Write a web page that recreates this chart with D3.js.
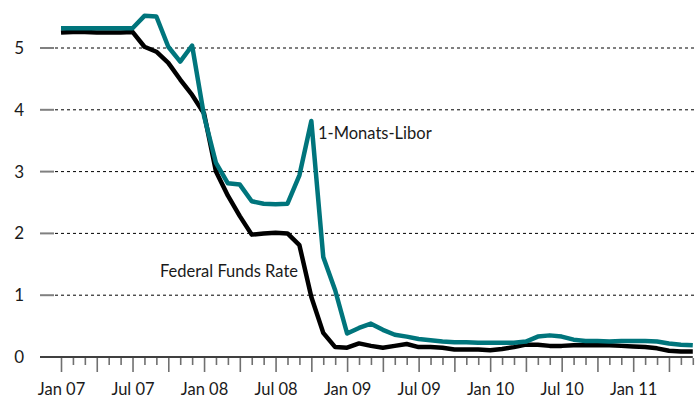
<!DOCTYPE html>
<html>
<head>
<meta charset="utf-8">
<script src="https://cdn.jsdelivr.net/npm/d3@7"></script>
<style>
  body { margin: 0; background: #fff; }
  text { font-family: Lato, "Open Sans", sans-serif; fill: #1a1a1a; }
</style>
</head>
<body>
<svg width="696" height="401"></svg>
<script>
// monthly values, Jan 07 .. Jun 11
var startYear = 2007;
var tickLabels = ["Jan 07","Jul 07","Jan 08","Jul 08","Jan 09","Jul 09","Jan 10","Jul 10","Jan 11"];
var yTicks = [0, 1, 2, 3, 4, 5];

var fedFunds = [5.25,5.26,5.26,5.25,5.25,5.25,5.26,5.02,4.94,4.76,4.49,4.24,
                3.94,3.00,2.61,2.28,1.98,2.00,2.01,2.00,1.81,0.97,0.39,0.16,
                0.15,0.22,0.18,0.15,0.18,0.21,0.16,0.16,0.15,0.12,0.12,0.12,
                0.11,0.13,0.16,0.20,0.20,0.18,0.18,0.19,0.19,0.19,0.19,0.18,
                0.17,0.16,0.14,0.10,0.09,0.09];
var libor1m = [5.32,5.32,5.32,5.32,5.32,5.32,5.32,5.52,5.51,5.02,4.78,5.04,
               3.90,3.14,2.81,2.79,2.52,2.48,2.47,2.48,2.94,3.82,1.62,1.08,
               0.38,0.47,0.54,0.44,0.36,0.33,0.29,0.27,0.25,0.24,0.24,0.23,
               0.23,0.23,0.23,0.25,0.33,0.35,0.33,0.28,0.26,0.26,0.25,0.26,
               0.26,0.26,0.25,0.22,0.20,0.19];

var svg = d3.select("svg"),
  width = +svg.attr("width"),
  height = +svg.attr("height");

var x = d3.scaleLinear().domain([0, 53]).range([61, 692.8]);
var y = d3.scaleLinear().domain([0, 5]).range([357, 48]);

// grid lines
svg.append("g")
  .selectAll("line")
  .data(yTicks.filter(function(d) { return d > 0; }))
  .enter().append("line")
    .attr("x1", 55).attr("x2", width)
    .attr("y1", function(d) { return y(d); })
    .attr("y2", function(d) { return y(d); })
    .attr("stroke", "#000")
    .attr("stroke-width", 1)
    .attr("stroke-dasharray", "3,3");

// y axis: short grey marks + labels
var yAxis = svg.append("g");
yAxis.selectAll("line")
  .data(yTicks.filter(function(d) { return d > 0; }))
  .enter().append("line")
    .attr("x1", 40).attr("x2", 54)
    .attr("y1", function(d) { return y(d); })
    .attr("y2", function(d) { return y(d); })
    .attr("stroke", "#808080")
    .attr("stroke-width", 2);
yAxis.selectAll("text")
  .data(yTicks)
  .enter().append("text")
    .attr("x", 24)
    .attr("y", function(d) { return y(d); })
    .attr("dy", "0.35em")
    .attr("text-anchor", "end")
    .style("font-size", "17px")
    .text(function(d) { return d; });

// x axis
var xAxis = d3.axisBottom(x)
  .tickValues(d3.range(0, 54))
  .tickSize(8)
  .tickSizeOuter(0)
  .tickFormat(function(d) { return d % 6 == 0 ? tickLabels[d / 6] : ""; });

var gx = svg.append("g")
  .attr("transform", "translate(0," + y(0) + ")")
  .call(xAxis);
gx.select(".domain").remove();
gx.append("line")
  .attr("x1", 40).attr("x2", 692.8)
  .attr("stroke", "#000").attr("stroke-width", 1.3);
gx.selectAll(".tick line")
  .attr("stroke", "#707070")
  .attr("stroke-width", 1.6)
  .attr("y1", 1)
  .attr("y2", function(d) { return d % 3 == 0 ? 15 : 8; });
gx.selectAll(".tick text")
  .attr("y", 26)
  .style("font-size", "16.5px")
  .style("font-family", "Lato, 'Open Sans', sans-serif")
  .attr("fill", "#1a1a1a");

// lines
var line = d3.line()
  .x(function(d, i) { return x(i); })
  .y(function(d) { return y(d); });

svg.append("path")
  .datum(fedFunds)
  .attr("d", line)
  .attr("fill", "none")
  .attr("stroke", "#000")
  .attr("stroke-width", 4.5)
  .attr("stroke-linejoin", "round");

svg.append("path")
  .datum(libor1m)
  .attr("d", line)
  .attr("fill", "none")
  .attr("stroke", "#00757c")
  .attr("stroke-width", 4.5)
  .attr("stroke-linejoin", "round");

// series labels
svg.append("text")
  .attr("x", 318)
  .attr("y", 133)
  .attr("dy", "0.35em")
  .style("font-size", "16.5px")
  .text("1-Monats-Libor");

svg.append("text")
  .attr("x", 298)
  .attr("y", 271)
  .attr("dy", "0.35em")
  .attr("text-anchor", "end")
  .style("font-size", "16.5px")
  .text("Federal Funds Rate");
</script>
</body>
</html>
